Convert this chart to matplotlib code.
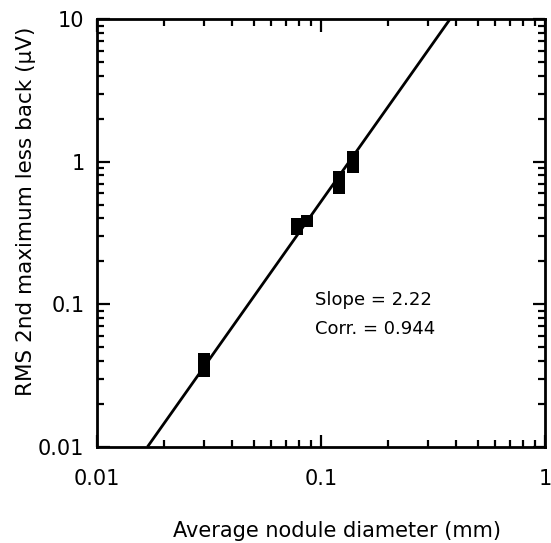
import numpy as np
import matplotlib
matplotlib.use("Agg")
import matplotlib.pyplot as plt
from matplotlib.ticker import LogLocator, FixedFormatter, FixedLocator, NullFormatter

# nodule diameter (mm) and RMS 2nd maximum less background (uV)
diameter = [0.030, 0.030, 0.078, 0.078, 0.087, 0.121, 0.121, 0.139, 0.139]
rms = [0.034, 0.041, 0.337, 0.366, 0.384, 0.655, 0.78, 0.92, 1.08]

# power-law fit: slope 2.22 on log-log axes
slope = 2.22
fit_x = np.array([0.0168, 0.376])
fit_y = 0.01 * (fit_x / fit_x[0]) ** slope

x_ticks = [0.01, 0.1, 1]
x_ticklabels = ["0.01", "0.1", "1"]
y_ticks = [0.01, 0.1, 1, 10]
y_ticklabels = ["0.01", "0.1", "1", "10"]

fig = plt.figure(figsize=(5.51, 5.43), dpi=100)
ax = fig.add_axes([0.176, 0.177, 0.813, 0.788])

ax.set_xscale("log")
ax.set_yscale("log")
ax.set_xlim(0.01, 1)
ax.set_ylim(0.01, 10)

ax.plot(fit_x, fit_y, color="black", lw=2.0, solid_capstyle="butt")
ax.plot(diameter, rms, linestyle="none", marker="s", markersize=8.5,
        color="black", markeredgewidth=0)

ax.xaxis.set_major_locator(FixedLocator(x_ticks))
ax.xaxis.set_major_formatter(FixedFormatter(x_ticklabels))
ax.xaxis.set_minor_locator(LogLocator(base=10, subs=np.arange(2, 10)))
ax.xaxis.set_minor_formatter(NullFormatter())
ax.yaxis.set_major_locator(FixedLocator(y_ticks))
ax.yaxis.set_major_formatter(FixedFormatter(y_ticklabels))
ax.yaxis.set_minor_locator(LogLocator(base=10, subs=np.arange(2, 10)))
ax.yaxis.set_minor_formatter(NullFormatter())

for s in ax.spines.values():
    s.set_linewidth(2.0)

ax.tick_params(which="both", direction="in", top=True, right=True,
               width=1.6, labelsize=15)
ax.tick_params(which="major", length=9)
ax.tick_params(which="minor", length=5)
ax.tick_params(axis="x", which="major", pad=16)
ax.tick_params(axis="y", which="major", pad=9)

ax.text(0.487, 0.343, "Slope = 2.22", fontsize=13, va="center",
        transform=ax.transAxes)
ax.text(0.487, 0.276, "Corr. = 0.944", fontsize=13, va="center",
        transform=ax.transAxes)

fig.text(0.612, 0.022, "Average nodule diameter (mm)", fontsize=15,
         ha="center", va="center")
fig.text(0.048, 0.61, "RMS 2nd maximum less back (\u03bcV)", fontsize=15.5,
         rotation=90, ha="center", va="center")

fig.savefig("out.png", dpi=100)
